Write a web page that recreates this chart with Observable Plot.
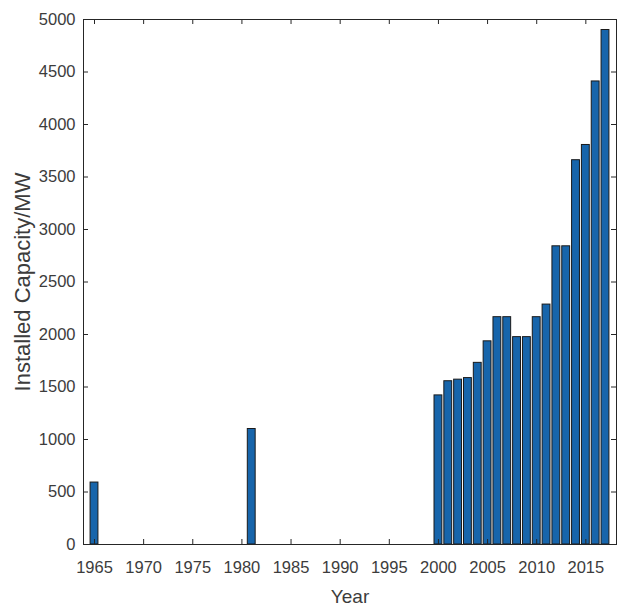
<!DOCTYPE html>
<html><head><meta charset="utf-8">
<script src="https://cdn.jsdelivr.net/npm/d3@7"></script>
<script src="https://cdn.jsdelivr.net/npm/@observablehq/plot@0.6"></script>
<style>body{margin:0;background:#fff}</style>
</head><body><div id="chart"></div>
<script>
const years = [1965, 1981, 2000, 2001, 2002, 2003, 2004, 2005, 2006, 2007, 2008, 2009, 2010, 2011, 2012, 2013, 2014, 2015, 2016, 2017];
const capacity = [590, 1100, 1420, 1555, 1570, 1585, 1730, 1935, 2165, 2165, 1975, 1975, 2165, 2285, 2840, 2840, 3660, 3805, 4410, 4900];
const xTicks = [1965, 1970, 1975, 1980, 1985, 1990, 1995, 2000, 2005, 2010, 2015];
const yTicks = [0, 500, 1000, 1500, 2000, 2500, 3000, 3500, 4000, 4500, 5000];
const xLabel = "Year";
const yLabel = "Installed Capacity/MW";

const data = years.map((year, i) => ({year, capacity: capacity[i]}));
const W = 623, H = 606, mL = 83, mT = 19, mR = 7, mB = 62;
const plotH = H - mT - mB, plotW = W - mL - mR;
const tk = 5;
const axisColor = "#262626";

const chart = Plot.plot({
  width: W, height: H,
  marginLeft: mL, marginTop: mT, marginRight: mR, marginBottom: mB,
  style: {fontFamily: '"Liberation Sans", Arial, sans-serif', fontSize: "16.5px", color: "#3c3c3c", background: "#fff"},
  x: {domain: [1963.88, 2018.12]},
  y: {domain: [0, 5000]},
  marks: [
    Plot.rectY(data, {x1: d => d.year - 0.4, x2: d => d.year + 0.4, y: "capacity", fill: "#1765ab", stroke: "#1a1a1a", strokeWidth: 1}),
    Plot.axisX(xTicks, {tickSize: 0, tickPadding: 17, tickFormat: "d", fontSize: 16.5, label: null}),
    Plot.axisX({ticks: [], label: xLabel, labelAnchor: "center", labelArrow: "none", labelOffset: 58, fontSize: 19, tickSize: 0}),
    Plot.axisY(yTicks, {tickSize: 0, tickPadding: 8, tickFormat: "d", fontSize: 16.5, label: null}),
    Plot.axisY({ticks: [], label: yLabel, labelAnchor: "center", labelArrow: "none", labelOffset: 69, fontSize: 22, tickSize: 0}),
    Plot.tickX(xTicks, {x: d => d, insetTop: plotH - tk, stroke: axisColor}),
    Plot.tickX(xTicks, {x: d => d, insetBottom: plotH - tk, stroke: axisColor}),
    Plot.tickY(yTicks, {y: d => d, insetRight: plotW - tk, stroke: axisColor}),
    Plot.tickY(yTicks, {y: d => d, insetLeft: plotW - tk, stroke: axisColor}),
    Plot.frame({stroke: axisColor, strokeWidth: 1})
  ]
});
document.getElementById("chart").append(chart);
</script>
</body></html>
